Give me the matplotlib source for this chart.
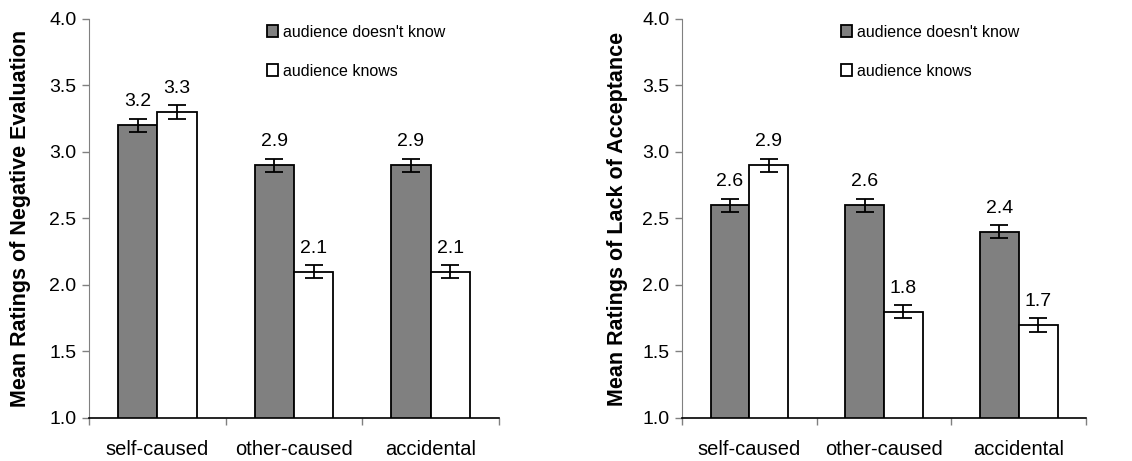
import numpy as np
import matplotlib.pyplot as plt

plt.rcParams['font.family'] = ['Liberation Sans', 'DejaVu Sans']

conditions = ['self-caused', 'other-caused', 'accidental']
series_names = ["audience doesn't know", 'audience knows']

neg_eval_unknown = [3.2, 2.9, 2.9]
neg_eval_known = [3.3, 2.1, 2.1]
lack_accept_unknown = [2.6, 2.6, 2.4]
lack_accept_known = [2.9, 1.8, 1.7]
err_unknown = [0.05, 0.05, 0.05]
err_known = [0.05, 0.05, 0.05]

ylabels = ['Mean Ratings of Negative Evaluation', 'Mean Ratings of Lack of Acceptance']
yticks = [1.0, 1.5, 2.0, 2.5, 3.0, 3.5, 4.0]


def bar_panel(ax, unknown, known, ylabel, legend_x, labelpad):
    x = np.arange(len(conditions))
    width = 0.288
    ax.bar(x - width / 2, unknown, width, color='#808080',
           edgecolor='black', linewidth=1.3, label=series_names[0], zorder=2)
    ax.bar(x + width / 2, known, width, color='white',
           edgecolor='black', linewidth=1.3, label=series_names[1], zorder=2)
    for xs, vals, errs in [(x - width / 2, unknown, err_unknown), (x + width / 2, known, err_known)]:
        ax.errorbar(xs, vals, yerr=errs, fmt='none', ecolor='black',
                    elinewidth=1.3, capsize=6.5, capthick=1.3, zorder=3)
        for xi, v, e in zip(xs, vals, errs):
            ax.annotate(f'{v:.1f}', (xi, v + e), xytext=(0, 6),
                        textcoords='offset points', ha='center', va='bottom',
                        fontsize=14)

    ax.set_ylim(1.0, 4.0)
    ax.set_yticks(yticks)
    ax.set_yticklabels([f'{t:.1f}' for t in yticks], fontsize=14)
    ax.set_xlim(-0.5, len(conditions) - 0.5)
    ax.set_xticks(x)
    ax.set_xticklabels(conditions, fontsize=14.5)
    ax.set_xticks(np.arange(len(conditions) + 1) - 0.5, minor=True)
    ax.tick_params(axis='x', which='major', length=0, pad=16)
    ax.tick_params(axis='x', which='minor', length=5, color='#808080', width=1)
    ax.tick_params(axis='y', length=5, color='#808080', width=1, pad=4)
    ax.set_ylabel(ylabel, fontsize=15.5, fontweight='bold', labelpad=labelpad)

    for side in ['top', 'right']:
        ax.spines[side].set_visible(False)
    ax.spines['left'].set_color('#808080')
    ax.spines['bottom'].set_color('black')
    ax.spines['bottom'].set_linewidth(1.2)

    ax.legend(loc='upper left', bbox_to_anchor=(legend_x, 1.01), frameon=False,
              fontsize=11.5, handlelength=0.7, handleheight=0.7,
              handletextpad=0.3, labelspacing=1.5, borderaxespad=0.2)


fig = plt.figure(figsize=(11.32, 4.61), dpi=100)
ax1 = fig.add_axes([0.0786, 0.0933, 0.3622, 0.8655])
ax2 = fig.add_axes([0.6025, 0.0933, 0.357, 0.8655])

bar_panel(ax1, neg_eval_unknown, neg_eval_known, ylabels[0], 0.41, 13)
bar_panel(ax2, lack_accept_unknown, lack_accept_known, ylabels[1], 0.37, 10)

fig.savefig('out.png', dpi=100)
